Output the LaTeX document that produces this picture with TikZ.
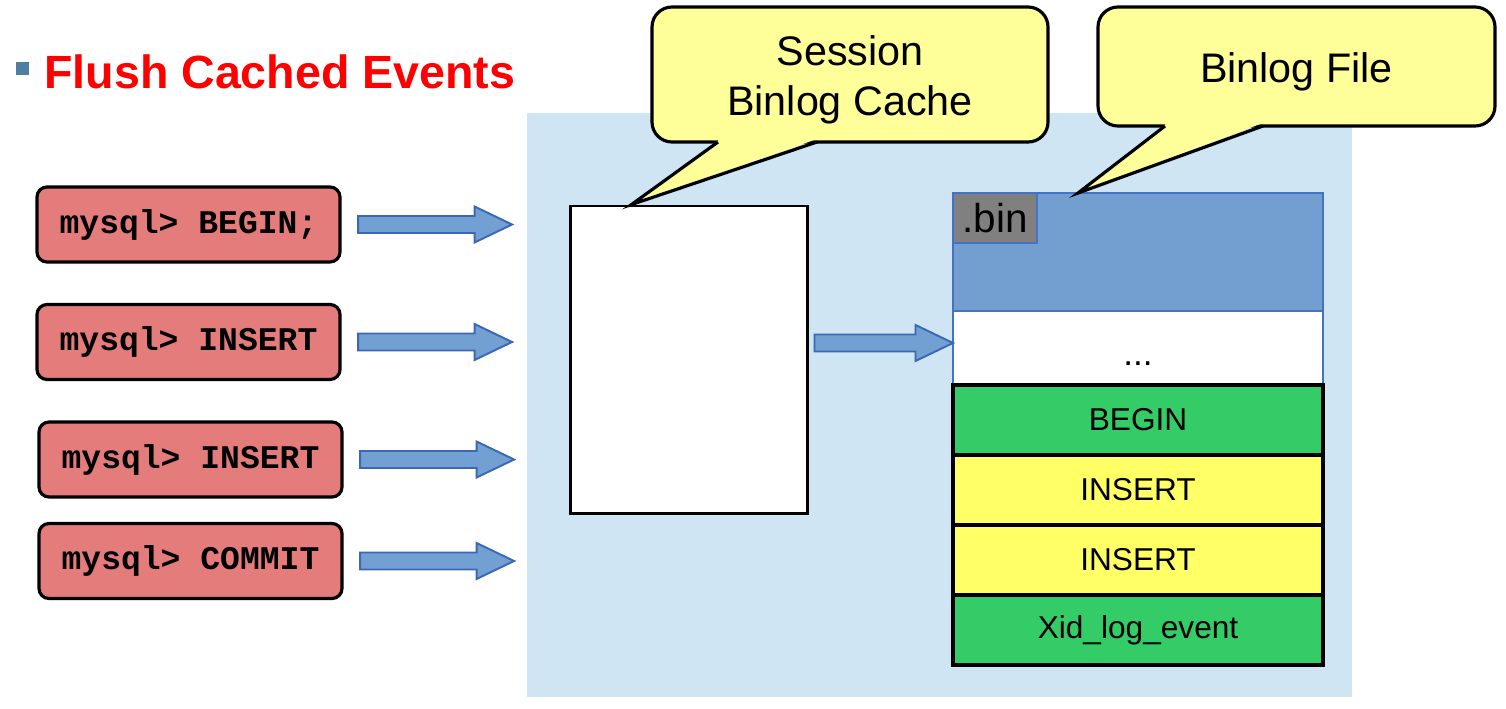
\documentclass[tikz,border=0pt]{standalone}
\usepackage{fontspec}
\setmainfont{Liberation Sans}
\newfontfamily\sqlfont{Liberation Mono}
\usetikzlibrary{arrows.meta, positioning, calc}

\definecolor{bgblue}{HTML}{CFE5F3}
\definecolor{sqlred}{HTML}{E47C7C}
\definecolor{arrowfill}{HTML}{72A0D2}
\definecolor{arrowedge}{HTML}{3B68B5}
\definecolor{headblue}{HTML}{729FCF}
\definecolor{headedge}{HTML}{4472C4}
\definecolor{bubblefill}{HTML}{FFFF99}
\definecolor{evgreen}{HTML}{33CC66}
\definecolor{evyellow}{HTML}{FFFF66}
\definecolor{titlered}{HTML}{FF0000}
\definecolor{bulletblue}{HTML}{4E7FA3}

% block arrow between two named coordinates
\newcommand\fatarrow[2]{%
  \draw[fatarr] ($(#1)+(0,0.17)$) -- ($(#2)+(-0.75,0.17)$) -- ($(#2)+(-0.75,0.36)$) -- (#2)
    -- ($(#2)+(-0.75,-0.36)$) -- ($(#2)+(-0.75,-0.17)$) -- ($(#1)+(0,-0.17)$) -- cycle;}

% pointer of a speech bubble: left base, right base, tip
\newcommand\bubbletail[3]{%
  \fill[bubblefill] ($(#1)+(0.03,0.05)$) -- (#3) -- ($(#2)+(-0.03,0.05)$) -- cycle;
  \draw[line width=1.8pt, line join=miter] (#1) -- (#3) -- (#2);}

\begin{document}
\begin{tikzpicture}[
  sqlbox/.style={draw, line width=1.8pt, rounded corners=0.2cm, fill=sqlred,
                 minimum width=6.06cm, minimum height=1.5cm,
                 font=\sqlfont\bfseries\fontsize{18.8}{20}\selectfont},
  fatarr/.style={fill=arrowfill, draw=arrowedge, line width=1.1pt, line join=miter},
  bubble/.style={draw, line width=1.8pt, rounded corners=0.4cm, fill=bubblefill, outer sep=0pt},
  bubbletext/.style={align=center, inner sep=0pt, font=\fontsize{23.5}{28.5}\selectfont},
  evrow/.style={draw, line width=2pt, minimum width=7.4cm, minimum height=1.4cm,
                inner sep=0pt, outer sep=0pt, font=\fontsize{18}{20}\selectfont},
]
\useasboundingbox (0,0) rectangle (30.12,14.16);

% ---- title ----
\node[fill=bulletblue, minimum size=0.26cm, inner sep=0pt] (bullet) at (0.45,12.78) {};
\node[anchor=base west, inner sep=0pt, text=titlered,
      font=\bfseries\fontsize{26.5}{30}\selectfont] (title) at (0.88,12.4) {Flush Cached Events};

% ---- background ----
\node[fill=bgblue, minimum width=16.5cm, minimum height=11.68cm, inner sep=0pt] (bg) at (18.79,6.06) {};

% ---- statements ----
\node[sqlbox] (q1) at (3.77,9.67) {mysql> BEGIN;};
\node[sqlbox] (q2) at (3.77,7.32) {mysql> INSERT};
\node[sqlbox] (q3) at (3.81,4.97) {mysql> INSERT};
\node[sqlbox] (q4) at (3.81,2.94) {mysql> COMMIT};

\foreach \i in {1,...,4} {
  \coordinate (a\i s) at ($(q\i.east)+(0.33,0)$);
  \coordinate (a\i e) at ($(a\i s)+(3.08,0)$);
  \fatarrow{a\i s}{a\i e}
}

% ---- session cache ----
\node[draw, line width=1.7pt, fill=white, minimum width=4.74cm, minimum height=6.14cm] (cache) at (13.77,6.97) {};

% ---- binlog file ----
\node[draw=headedge, line width=1.1pt, fill=headblue, minimum width=7.4cm, minimum height=2.36cm,
      outer sep=0pt] (head) at (22.76,9.12) {};
\node[draw=headedge, line width=1.1pt, fill=gray, minimum width=1.68cm, minimum height=1cm,
      inner sep=0pt, outer sep=0pt, anchor=north west, font=\fontsize{23}{26}\selectfont] (bin) at (head.north west) {.bin};
\node[draw=headedge, line width=1.1pt, fill=white, minimum width=7.4cm, minimum height=1.48cm,
      outer sep=0pt, below=0pt of head] (dots) {};
\node[font=\fontsize{20}{22}\selectfont, inner sep=0pt] (dotstext) at ($(dots.center)+(0,-0.32)$) {...};

\node[evrow, fill=evgreen,  below=0pt of dots] (ev1) {BEGIN};
\node[evrow, fill=evyellow, below=0pt of ev1]  (ev2) {INSERT};
\node[evrow, fill=evyellow, below=0pt of ev2]  (ev3) {INSERT};
\node[evrow, fill=evgreen,  below=0pt of ev3]  (ev4) {Xid\_log\_event};

\coordinate (m1) at ($(cache.east)+(0.12,0.33)$);
\coordinate (m2) at (dots.west |- m1);
\fatarrow{m1}{m2}

% ---- callouts ----
\node[bubble, minimum width=7.92cm, minimum height=2.7cm] (c1) at (17.0,12.67) {};
\coordinate (c1l) at ($(c1.south west)+(1.32,0)$);
\coordinate (c1r) at ($(c1.south west)+(3.30,0)$);
\coordinate (tip1) at ($(cache.north west)+(1.26,0)$);
\bubbletail{c1l}{c1r}{tip1}
\node[bubbletext] (c1text) at ($(c1.center)+(0,-0.1)$) {Session\\Binlog Cache};

\node[bubble, minimum width=7.94cm, minimum height=2.38cm] (c2) at (25.93,12.83) {};
\coordinate (c2l) at ($(c2.south west)+(1.34,0)$);
\coordinate (c2r) at ($(c2.south west)+(3.30,0)$);
\coordinate (tip2) at ($(head.north west)+(2.5,0)$);
\bubbletail{c2l}{c2r}{tip2}
\node[bubbletext] (c2text) at ($(c2.center)+(0,-0.1)$) {Binlog File};

\end{tikzpicture}
\end{document}
